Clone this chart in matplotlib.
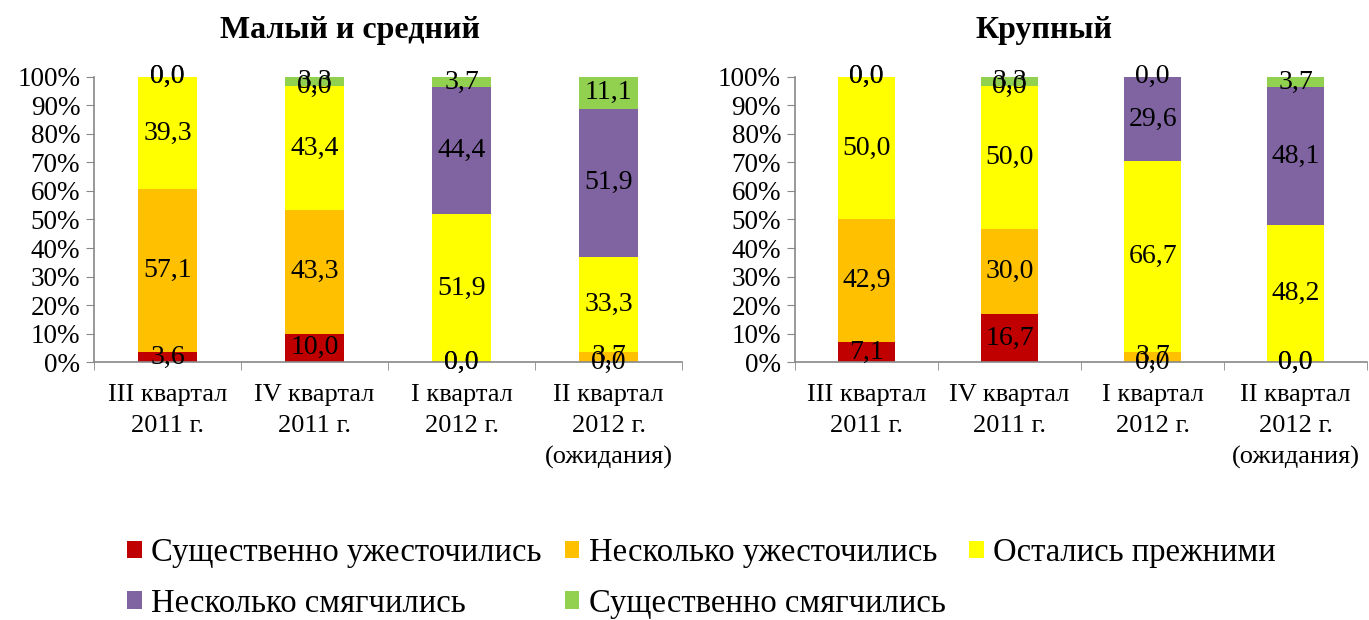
import matplotlib
matplotlib.use("Agg")
import matplotlib.pyplot as plt
import numpy as np

plt.rcParams['font.family'] = ['Liberation Serif', 'DejaVu Serif']

categories = ["III квартал\n2011 г.", "IV квартал\n2011 г.", "I квартал\n2012 г.", "II квартал\n2012 г.\n(ожидания)"]
series_names = ["Существенно ужесточились", "Несколько ужесточились", "Остались прежними",
                "Несколько смягчились", "Существенно смягчились"]
colors = ["#C00000", "#FFC000", "#FFFF00", "#8064A2", "#92D050"]

# values per series, one per quarter
small_medium = [
    [3.6, 10.0, 0.0, 0.0],
    [57.1, 43.3, 0.0, 3.7],
    [39.3, 43.4, 51.9, 33.3],
    [0.0, 0.0, 44.4, 51.9],
    [0.0, 3.3, 3.7, 11.1],
]
large = [
    [7.1, 16.7, 0.0, 0.0],
    [42.9, 30.0, 3.7, 0.0],
    [50.0, 50.0, 66.7, 48.2],
    [0.0, 0.0, 29.6, 48.1],
    [0.0, 3.3, 0.0, 3.7],
]
titles = ["Малый и средний", "Крупный"]

fig = plt.figure(figsize=(13.69, 6.2), dpi=100)
ax1 = fig.add_axes([0.0687, 0.416, 0.4295, 0.46])
ax2 = fig.add_axes([0.5807, 0.416, 0.418, 0.46])

handles = []
for ax, data, title in zip([ax1, ax2], [small_medium, large], titles):
    x = np.arange(len(categories))
    bottom = np.zeros(len(categories))
    handles = []
    for name, vals, c in zip(series_names, data, colors):
        vals = np.array(vals)
        b = ax.bar(x, vals, 0.4, bottom=bottom, color=c, label=name)
        handles.append(b)
        for xi, v, bt in zip(x, vals, bottom):
            ax.text(xi, bt + v / 2, f"{v:.1f}".replace(".", ","), ha="center", va="center",
                    fontsize=20)
        bottom += vals
    ax.set_xlim(-0.5, 3.5)
    ax.set_ylim(0, 100)
    ax.set_yticks(np.arange(0, 101, 10))
    ax.set_yticklabels([f"{t}%" for t in range(0, 101, 10)], fontsize=19.5)
    ax.set_xticks(x)
    ax.set_xticklabels(categories, fontsize=19, linespacing=1.5)
    ax.set_xticks(np.arange(-0.5, 4, 1), minor=True)
    ax.tick_params(axis="x", which="major", length=0, pad=16)
    ax.tick_params(axis="x", which="minor", length=6, color="#888888")
    ax.tick_params(axis="y", length=6, color="#888888", pad=4)
    for s in ["top", "right"]:
        ax.spines[s].set_visible(False)
    for s in ["left", "bottom"]:
        ax.spines[s].set_color("#888888")
        ax.spines[s].set_linewidth(1.2)
    ax.set_title(title, fontsize=23, fontweight="bold", pad=28, x=0.436)

order = [0, 3, 1, 4, 2]
fig.legend([handles[i] for i in order], [series_names[i] for i in order], ncol=3,
           loc="lower left", bbox_to_anchor=(0.076, -0.035), frameon=False, fontsize=23.5,
           handlelength=0.45, handleheight=0.45, handletextpad=0.3, columnspacing=0.7,
           labelspacing=0.62, borderaxespad=0.3)

fig.savefig("out.png", dpi=100)
